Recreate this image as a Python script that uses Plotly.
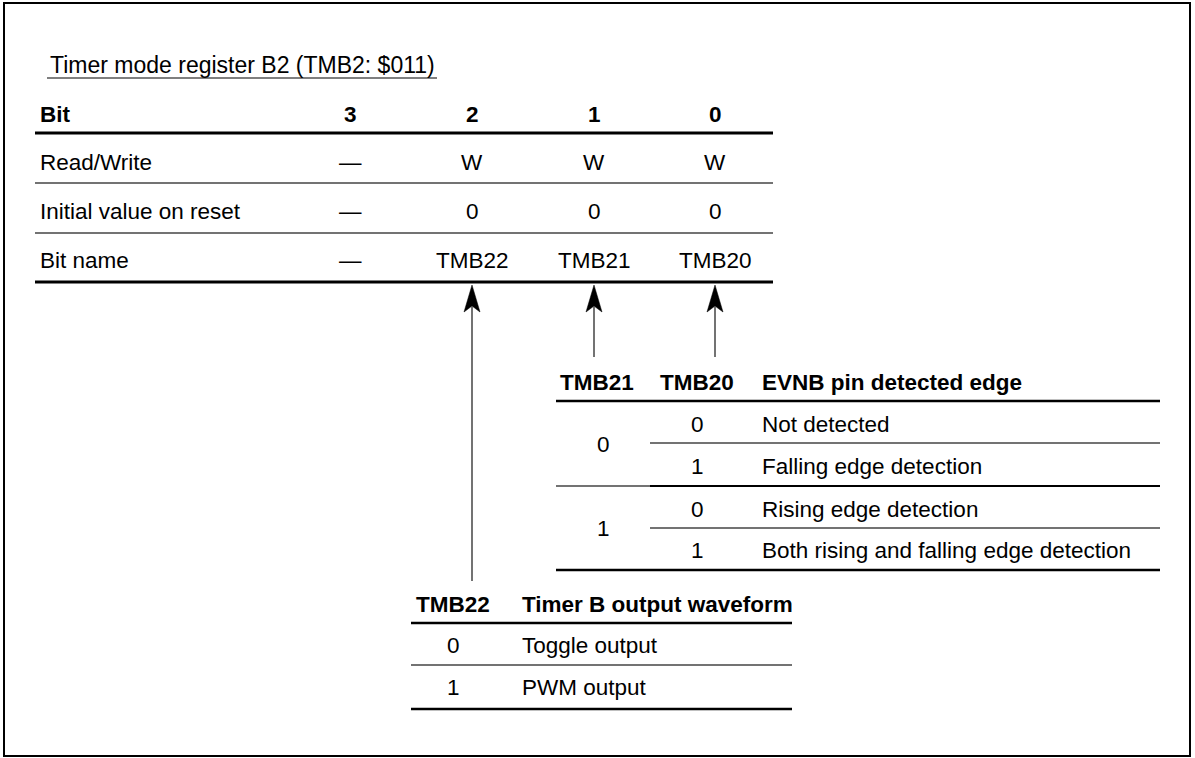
import plotly.graph_objects as go

# ---------------- data ----------------
title_text = "Timer mode register B2 (TMB2: $011)"
row_labels = ["Bit", "Read/Write", "Initial value on reset", "Bit name"]
bit_numbers = ["3", "2", "1", "0"]
read_write = ["\u2014", "W", "W", "W"]
initial_values = ["\u2014", "0", "0", "0"]
bit_names = ["\u2014", "TMB22", "TMB21", "TMB20"]

edge_header = ["TMB21", "TMB20", "EVNB pin detected edge"]
edge_tmb21 = ["0", "1"]
edge_tmb20 = ["0", "1", "0", "1"]
edge_desc = ["Not detected", "Falling edge detection",
             "Rising edge detection", "Both rising and falling edge detection"]

wave_header = ["TMB22", "Timer B output waveform"]
wave_tmb22 = ["0", "1"]
wave_desc = ["Toggle output", "PWM output"]

# ---------------- layout constants ----------------
W, H = 1195, 758
FONT = "Liberation Sans, Arial, Helvetica, sans-serif"
FS = 22.5
BLACK = "#000000"
GREY = "#444444"

fig = go.Figure()
shapes = []
annos = []


def text(x, y, s, anchor="center", bold=False, size=FS):
    annos.append(dict(x=x, y=y, xref="x", yref="y", text=(f"<b>{s}</b>" if bold else s),
                      showarrow=False, xanchor=anchor, yanchor="middle",
                      font=dict(family=FONT, size=size, color=BLACK)))


def hline(x0, x1, y, w=1.5, color=GREY):
    shapes.append(dict(type="line", xref="x", yref="y", x0=x0, x1=x1, y0=y, y1=y,
                       line=dict(color=color, width=w)))


def vline(x, y0, y1, w=1.5, color=GREY):
    shapes.append(dict(type="line", xref="x", yref="y", x0=x, x1=x, y0=y0, y1=y1,
                       line=dict(color=color, width=w)))


def arrow_head(x, tip, base=312, notch=306, half=8):
    path = f"M {x} {tip} L {x-half} {base} L {x} {notch} L {x+half} {base} Z"
    shapes.append(dict(type="path", xref="x", yref="y", path=path,
                       fillcolor=BLACK, line=dict(color=BLACK, width=0.5)))


# frame
shapes.append(dict(type="rect", xref="x", yref="y", x0=4, x1=1190, y0=3, y1=756,
                   line=dict(color=BLACK, width=2), fillcolor="rgba(0,0,0,0)"))

# title with underline
text(48, 65, title_text, anchor="left", size=23)
hline(47, 437, 78, w=1.5, color="#555555")

# top register table
label_x = 38
col_x = [350, 472, 594, 715]
row_y = [114, 162, 211, 260]
rows = [bit_numbers, read_write, initial_values, bit_names]
for i, (lab, vals) in enumerate(zip(row_labels, rows)):
    text(label_x, row_y[i], lab, anchor="left", bold=(i == 0))
    for cx, v in zip(col_x, vals):
        text(cx, row_y[i], v, bold=(i == 0))

hline(35, 773, 133, w=3, color=BLACK)
hline(35, 773, 183, w=1.5)
hline(35, 773, 233, w=1.5)
hline(35, 773, 282, w=3, color=BLACK)

# arrows
arrow_head(col_x[1], 285)
arrow_head(col_x[2], 285)
arrow_head(col_x[3], 285)
vline(col_x[1], 306, 581)
vline(col_x[2], 306, 357)
vline(col_x[3], 306, 357)

# EVNB table
text(597, 382, edge_header[0], bold=True)
text(697, 382, edge_header[1], bold=True)
text(760, 382, edge_header[2], anchor="left", bold=True)
hline(556, 1160, 401, w=2.5, color=BLACK)
edge_rows_y = [424, 466, 509, 550]
for yy, v, d in zip(edge_rows_y, edge_tmb20, edge_desc):
    text(697, yy, v)
    text(760, yy, d, anchor="left")
text(603, 444, edge_tmb21[0])
text(603, 528, edge_tmb21[1])
hline(650, 1160, 443, w=1.5)
hline(556, 650, 486, w=1.5)
hline(650, 1160, 486, w=2, color=BLACK)
hline(650, 1160, 528, w=1.5)
hline(556, 1160, 570, w=2.5, color=BLACK)

# Timer B output waveform table
text(453, 604, wave_header[0], bold=True)
text(520, 604, wave_header[1], anchor="left", bold=True)
hline(411, 792, 623, w=2.5, color=BLACK)
wave_rows_y = [645, 687]
for yy, v, d in zip(wave_rows_y, wave_tmb22, wave_desc):
    text(453, yy, v)
    text(520, yy, d, anchor="left")
hline(411, 792, 665, w=1.5)
hline(411, 792, 709, w=2.5, color=BLACK)

fig.update_layout(
    width=W, height=H,
    margin=dict(l=0, r=0, t=0, b=0),
    paper_bgcolor="white", plot_bgcolor="white",
    xaxis=dict(range=[0, W], visible=False, fixedrange=True),
    yaxis=dict(range=[H, 0], visible=False, fixedrange=True),
    shapes=shapes, annotations=annos, showlegend=False,
)
fig.write_html(
    "out.html",
    config={"displayModeBar": False},
    post_script="document.body.style.margin='0px';document.body.style.padding='0px';"
                "document.body.style.overflow='hidden';",
)
